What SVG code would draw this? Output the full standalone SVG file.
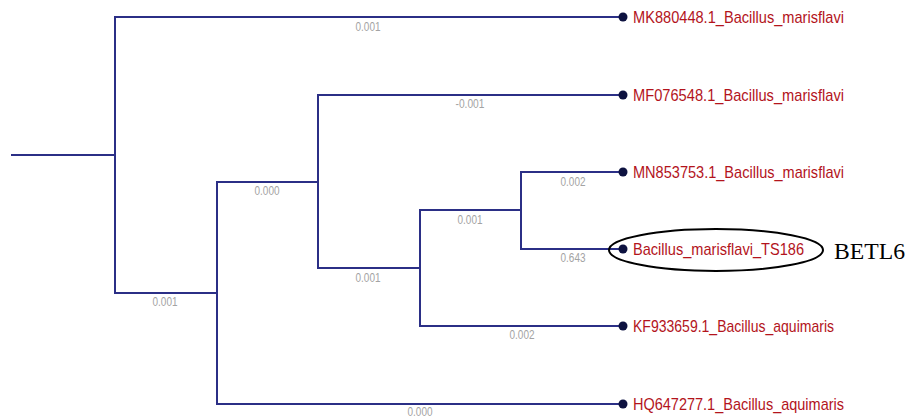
<svg xmlns="http://www.w3.org/2000/svg" width="911" height="420" viewBox="0 0 911 420">
<style>
.br{fill:none;stroke:#2b2f86;stroke-width:2;stroke-linecap:square}
.bl{font-family:"Liberation Sans",Arial,sans-serif;font-size:13px;fill:#a3a3a3;text-anchor:middle}
.lf{font-family:"Liberation Sans",Arial,sans-serif;font-size:17px;fill:#b3141c}
.dot{fill:#0d1240}
</style>
<rect width="911" height="420" fill="#ffffff"/>
<g id="connectors">
<path class="br" d="M12 155H115M115 17V293M115 17H622M115 293H217M217 182V404M217 182H318M217 404H622M318 95V268M318 95H622M318 268H420M420 210V326M420 210H521M420 326H622M521 172V249M521 172H622M521 249H622"/>
<text class="bl" x="368" y="31" textLength="25" lengthAdjust="spacingAndGlyphs">0.001</text>
<text class="bl" x="165" y="306" textLength="25" lengthAdjust="spacingAndGlyphs">0.001</text>
<text class="bl" x="267" y="195" textLength="25" lengthAdjust="spacingAndGlyphs">0.000</text>
<text class="bl" x="420" y="416" textLength="25" lengthAdjust="spacingAndGlyphs">0.000</text>
<text class="bl" x="470" y="108" textLength="29" lengthAdjust="spacingAndGlyphs">-0.001</text>
<text class="bl" x="368" y="282" textLength="25" lengthAdjust="spacingAndGlyphs">0.001</text>
<text class="bl" x="470" y="224" textLength="25" lengthAdjust="spacingAndGlyphs">0.001</text>
<text class="bl" x="522" y="339" textLength="25" lengthAdjust="spacingAndGlyphs">0.002</text>
<text class="bl" x="573" y="186" textLength="25" lengthAdjust="spacingAndGlyphs">0.002</text>
<text class="bl" x="573" y="262" textLength="25" lengthAdjust="spacingAndGlyphs">0.643</text>
</g>
<g id="leaf-MK880448">
<circle class="dot" cx="623" cy="17" r="4.5"/>
<text class="lf" x="633" y="23" textLength="211" lengthAdjust="spacingAndGlyphs">MK880448.1_Bacillus_marisflavi</text>
</g>
<g id="leaf-MF076548">
<circle class="dot" cx="623" cy="95" r="4.5"/>
<text class="lf" x="633" y="101" textLength="211" lengthAdjust="spacingAndGlyphs">MF076548.1_Bacillus_marisflavi</text>
</g>
<g id="leaf-MN853753">
<circle class="dot" cx="623" cy="172" r="4.5"/>
<text class="lf" x="633" y="178" textLength="211" lengthAdjust="spacingAndGlyphs">MN853753.1_Bacillus_marisflavi</text>
</g>
<g id="leaf-TS186">
<ellipse cx="716" cy="250" rx="107" ry="21" fill="none" stroke="#000000" stroke-width="2"/>
<circle class="dot" cx="623" cy="249" r="4.5"/>
<text class="lf" x="633" y="255" textLength="171" lengthAdjust="spacingAndGlyphs">Bacillus_marisflavi_TS186</text>
<text x="834" y="259" font-family="'Liberation Serif','Times New Roman',serif" font-size="23" fill="#000000" textLength="71" lengthAdjust="spacingAndGlyphs">BETL6</text>
</g>
<g id="leaf-KF933659">
<circle class="dot" cx="623" cy="326" r="4.5"/>
<text class="lf" x="633" y="332" textLength="201" lengthAdjust="spacingAndGlyphs">KF933659.1_Bacillus_aquimaris</text>
</g>
<g id="leaf-HQ647277">
<circle class="dot" cx="623" cy="404" r="4.5"/>
<text class="lf" x="633" y="410" textLength="211" lengthAdjust="spacingAndGlyphs">HQ647277.1_Bacillus_aquimaris</text>
</g>
</svg>
